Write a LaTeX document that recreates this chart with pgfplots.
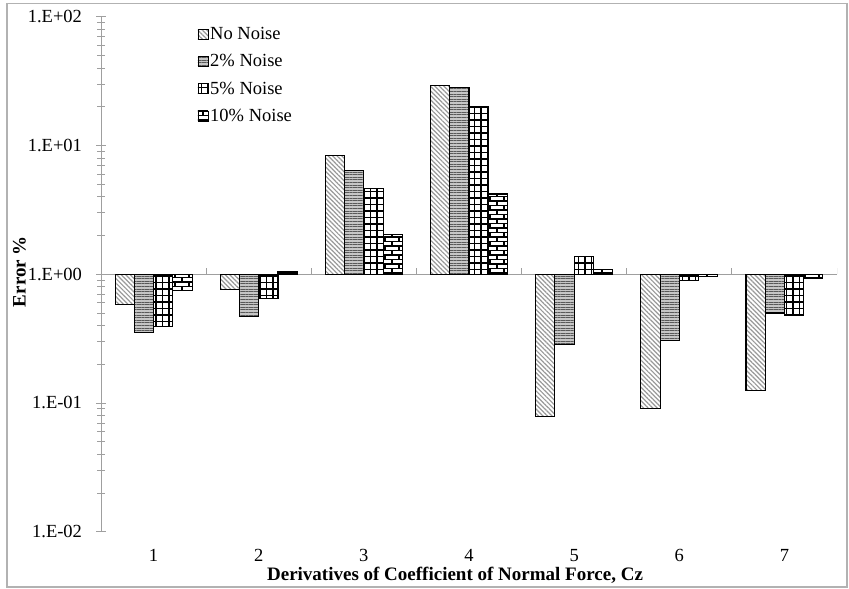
\documentclass[border=0pt]{standalone}
\usepackage{fontspec}
\setmainfont{Liberation Serif}
\usepackage{pgfplots}
\pgfplotsset{compat=1.18}
\usetikzlibrary{patterns,patterns.meta}

% brick pattern for the 10% series
\pgfdeclarepatternformonly{mybricks}{\pgfqpoint{-1pt}{-1pt}}{\pgfqpoint{15pt}{10pt}}{\pgfqpoint{14pt}{9pt}}{%
  \pgfsetlinewidth{1.1pt}%
  \pgfpathmoveto{\pgfqpoint{0pt}{0pt}}\pgfpathlineto{\pgfqpoint{14pt}{0pt}}%
  \pgfpathmoveto{\pgfqpoint{0pt}{4.5pt}}\pgfpathlineto{\pgfqpoint{14pt}{4.5pt}}%
  \pgfpathmoveto{\pgfqpoint{0pt}{0pt}}\pgfpathlineto{\pgfqpoint{0pt}{4.5pt}}%
  \pgfpathmoveto{\pgfqpoint{7pt}{4.5pt}}\pgfpathlineto{\pgfqpoint{7pt}{9pt}}%
  \pgfusepath{stroke}}
% open square grid for the 5% series
\pgfdeclarepatternformonly{mygrid}{\pgfqpoint{-1pt}{-1pt}}{\pgfqpoint{7.5pt}{7.5pt}}{\pgfqpoint{6.5pt}{6.5pt}}{%
  \pgfsetlinewidth{1.2pt}%
  \pgfpathmoveto{\pgfqpoint{0pt}{0pt}}\pgfpathlineto{\pgfqpoint{6.5pt}{0pt}}%
  \pgfpathmoveto{\pgfqpoint{0pt}{0pt}}\pgfpathlineto{\pgfqpoint{0pt}{6.5pt}}%
  \pgfusepath{stroke}}

\begin{document}
\begin{tikzpicture}[font=\fontsize{18.5}{21}\selectfont]
\begin{axis}[
  scale only axis, width=736pt, height=515pt,
  ymode=log, ymin=0.01, ymax=100,
  xmin=-0.5, xmax=6.5,
  ybar=0pt, bar width=0.183,
  axis lines*=left,
  x axis line style={draw=none},
  y axis line style={gray!75, line width=0.9pt},
  xtick={0,1,2,3,4,5,6}, xticklabels={1,2,3,4,5,6,7},
  xtick style={draw=none},
  xticklabel style={anchor=center, yshift=-19pt},
  ytick={0.01,0.1,1,10,100},
  yticklabels={1.E-02,1.E-01,1.E+00,1.E+01,1.E+02},
  yticklabel style={xshift=-11pt},
  ytick style={gray!75, line width=0.8pt},
  tick align=center,
  major tick length=9pt, minor tick length=7pt,
  xlabel={\fontsize{19}{22}\selectfont\bfseries Derivatives of Coefficient of Normal Force, Cz},
  xlabel style={at={(axis description cs:0.481,-0.084)}, anchor=center},
  ylabel={\fontsize{19}{22}\selectfont\bfseries Error \%},
  ylabel style={at={(axis description cs:-0.111,0.505)}, anchor=center},
  every axis plot/.append style={draw=black, line width=1.1pt},
  legend image code/.code={\draw[#1, line width=0.6pt] (0pt,-5pt) rectangle (10pt,5pt);},
  legend style={at={(axis description cs:0.131,0.984)}, anchor=north west,
    draw=none, fill=none, row sep=9.5pt, inner sep=0pt},
  legend cell align=left,
]
% horizontal reference line at 1 with category separators
\draw[gray!75, line width=0.9pt] (axis cs:-0.5,1) -- (axis cs:6.5,1);
\pgfplotsinvokeforeach{-0.5,0.5,1.5,2.5,3.5,4.5,5.5,6.5}{
  \draw[gray!75, line width=0.9pt] (axis cs:#1,1) -- ++(0pt,6pt);
}

\addplot[fill=white, postaction={pattern={Lines[angle=-45,distance=3.2pt,line width=1.2pt]}, pattern color=gray!80}]
  coordinates {(0,0.58) (1,0.76) (2,8.3) (3,29.0) (4,0.079) (5,0.091) (6,0.124)};
\addplot[fill=gray!45, postaction={pattern={Lines[angle=0,distance=2.6pt,line width=1pt]}, pattern color=black!65}]
  coordinates {(0,0.35) (1,0.47) (2,6.4) (3,28.3) (4,0.285) (5,0.307) (6,0.50)};
\addplot[fill=white, postaction={pattern=mygrid, pattern color=black}]
  coordinates {(0,0.39) (1,0.65) (2,4.6) (3,20.0) (4,1.37) (5,0.90) (6,0.48)};
\addplot[fill=white, postaction={pattern=mybricks, pattern color=black}]
  coordinates {(0,0.75) (1,1.045) (2,2.04) (3,4.2) (4,1.08) (5,0.96) (6,0.93)};
\legend{No Noise, 2\% Noise, 5\% Noise, 10\% Noise}
\end{axis}
\draw[gray!60, line width=1.4pt]
  ([xshift=-94pt,yshift=-55.3pt]current axis.south west) rectangle
  ([xshift=10pt,yshift=13.4pt]current axis.north east);
\pgfresetboundingbox
\useasboundingbox ([xshift=-101pt,yshift=-56.3pt]current axis.south west) rectangle
  ([xshift=12pt,yshift=16.7pt]current axis.north east);
\end{tikzpicture}
\end{document}
